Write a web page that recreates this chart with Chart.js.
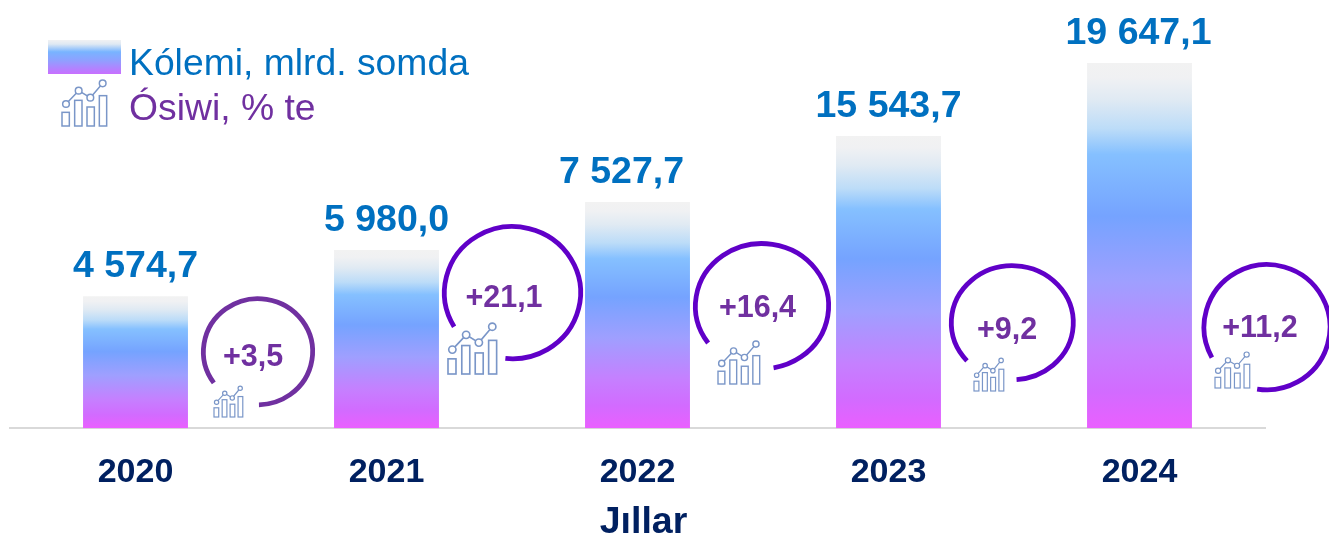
<!DOCTYPE html>
<html>
<head>
<meta charset="utf-8">
<style>html,body{margin:0;padding:0;background:#fff}canvas{display:block}</style>
<script src="https://cdn.jsdelivr.net/npm/chart.js@4"></script>
</head>
<body>
<div style="width:1329px;height:534px;position:relative"><canvas id="c" width="1329" height="534"></canvas></div>
<script>
const categories = ['2020','2021','2022','2023','2024'];
const volumeValues = [4574.7, 5980.0, 7527.7, 15543.7, 19647.1];
const volumeLabels = ['4 574,7','5 980,0','7 527,7','15 543,7','19 647,1'];
const growthLabels = ['+3,5','+21,1','+16,4','+9,2','+11,2'];
const legendVolume = 'Kólemi, mlrd. somda';
const legendGrowth = 'Ósiwi, % te';
const axisTitle = 'Jıllar';

// The picture's hidden value axis is not linear: knots of a piecewise scale (value, share of plot height)
const axisKnotValues = [0, 4574.7, 5980.0, 7527.7, 15543.7, 19647.1, 22000];
const axisKnotShares = [0, 0.3084, 0.4159, 0.5280, 0.6822, 0.8528, 1];

const FONT = '"Liberation Sans", Arial, sans-serif';
const BLUE = '#0070c0', PURPLE = '#7030a0', NAVY = '#002060', ICON = '#7a96c8';
const barStops = [[0,'#f2f2f2'],[.04,'#f0f1f3'],[.10,'#e0eaf3'],[.18,'#bcdcf8'],[.25,'#85c0ff'],[.42,'#75a3ff'],[.60,'#9f9fff'],[.78,'#c580ff'],[.90,'#d26bff'],[1,'#ea5fff']];
const swatchStops = [[0,'#f0f1f3'],[.12,'#dfe9f3'],[.35,'#78b4ff'],[.6,'#8fa0ff'],[1,'#c96fff']];

// annotation layout: value-label shift, ring offset from bar centre, height of centre over the axis, radii, arc angles, colour, text offset, icon box
const labelShift = [0, 0, -16, 0, -1];
const ringLayout = [
  {dx:122.5, up:76.5,  rx:54.6, ry:53.1, a0:144, a1:89, color:'#7030a0', tx:-5,   ty:4, icon:[214,386,29,31]},
  {dx:126,   up:135.5, rx:68.1, ry:66.1, a0:149, a1:96, color:'#6000c8', tx:-8.5, ty:4, icon:[448,323,49,51]},
  {dx:124.5, up:122,   rx:66.6, ry:62.6, a0:144, a1:80, color:'#6000c8', tx:-4.5, ty:1, icon:[718,341,42,43]},
  {dx:123.8, up:105.5, rx:61,   ry:57,   a0:138, a1:86, color:'#6000c8', tx:-5.3, ty:6, icon:[974,358,30,33]},
  {dx:127.5, up:101,   rx:63,   ry:62.6, a0:151, a1:99, color:'#6000c8', tx:-7,   ty:0, icon:[1215,352,35,36]}
];

class PiecewiseScale extends Chart.LinearScale {
  getPixelForValue(v) {
    const k = axisKnotValues, s = axisKnotShares;
    let i = 0;
    while (i < k.length - 2 && v > k[i + 1]) i++;
    const share = s[i] + (v - k[i]) / (k[i + 1] - k[i]) * (s[i + 1] - s[i]);
    return this.bottom - share * (this.bottom - this.top);
  }
  getValueForPixel(p) {
    const k = axisKnotValues, s = axisKnotShares;
    const share = (this.bottom - p) / (this.bottom - this.top);
    let i = 0;
    while (i < s.length - 2 && share > s[i + 1]) i++;
    return k[i] + (share - s[i]) / (s[i + 1] - s[i]) * (k[i + 1] - k[i]);
  }
}
PiecewiseScale.id = 'piecewise';
PiecewiseScale.defaults = {};
Chart.register(PiecewiseScale);

function gradient(ctx, top, bottom, stops) {
  const g = ctx.createLinearGradient(0, top, 0, bottom);
  stops.forEach(s => g.addColorStop(s[0], s[1]));
  return g;
}

function drawIcon(ctx, x, y, w, h) {
  const sx = w / 135, sy = h / 138;
  const bars = [[0,97,22],[38,61,22],[75,81,22],[112,47,22]];
  const pts = [[12,72],[50,32],[85,53],[122,10]];
  ctx.save();
  ctx.strokeStyle = ICON;
  ctx.lineWidth = Math.max(1.2, w / 30);
  bars.forEach(b => ctx.strokeRect(x + b[0] * sx, y + b[1] * sy, b[2] * sx, (138 - b[1]) * sy));
  ctx.beginPath();
  pts.forEach((p, i) => { const px = x + p[0] * sx, py = y + p[1] * sy; if (i) ctx.lineTo(px, py); else ctx.moveTo(px, py); });
  ctx.stroke();
  pts.forEach(p => {
    ctx.beginPath();
    ctx.arc(x + p[0] * sx, y + p[1] * sy, 10 * sx, 0, Math.PI * 2);
    ctx.fillStyle = '#fff';
    ctx.fill();
    ctx.stroke();
  });
  ctx.restore();
}

const decorations = {
  id: 'decorations',
  afterDatasetsDraw(chart) {
    const ctx = chart.ctx, bars = chart.getDatasetMeta(0).data, axisY = chart.scales.y.bottom;
    ctx.save();
    // value labels
    ctx.textAlign = 'center';
    ctx.textBaseline = 'alphabetic';
    ctx.fillStyle = BLUE;
    ctx.font = 'bold 37.5px ' + FONT;
    bars.forEach((b, i) => ctx.fillText(volumeLabels[i], b.x + labelShift[i], b.y - 19));
    // growth rings
    bars.forEach((b, i) => {
      const L = ringLayout[i], cx = b.x + L.dx, cy = axisY - L.up;
      ctx.beginPath();
      ctx.ellipse(cx, cy, L.rx, L.ry, 0, L.a0 * Math.PI / 180, L.a1 * Math.PI / 180);
      ctx.strokeStyle = L.color;
      ctx.lineWidth = 4.8;
      ctx.stroke();
      ctx.fillStyle = PURPLE;
      ctx.font = 'bold 30.5px ' + FONT;
      ctx.fillText(growthLabels[i], cx + L.tx, cy + L.ty + 10);
      drawIcon(ctx, L.icon[0], L.icon[1], L.icon[2], L.icon[3]);
    });
    // legend
    ctx.fillStyle = gradient(ctx, 40, 74, swatchStops);
    ctx.fillRect(48, 40, 73, 34);
    ctx.textAlign = 'left';
    ctx.font = '37.3px ' + FONT;
    ctx.fillStyle = BLUE;
    ctx.fillText(legendVolume, 129, 75);
    ctx.fillStyle = PURPLE;
    ctx.fillText(legendGrowth, 129, 120);
    drawIcon(ctx, 62, 80, 45, 46);
    // axis title
    ctx.textAlign = 'center';
    ctx.font = 'bold 37.5px ' + FONT;
    ctx.fillStyle = NAVY;
    ctx.fillText(axisTitle, 643.5, 533);
    ctx.restore();
  }
};

new Chart(document.getElementById('c'), {
  type: 'bar',
  data: {
    labels: categories,
    datasets: [{
      label: legendVolume,
      data: volumeValues,
      borderWidth: 0,
      categoryPercentage: 0.418,
      barPercentage: 1,
      backgroundColor(c) {
        const y = c.chart.scales.y;
        const top = y && c.dataIndex !== undefined ? y.getPixelForValue(volumeValues[c.dataIndex]) : NaN;
        if (!Number.isFinite(top) || !Number.isFinite(y.bottom)) return '#75a3ff';
        return gradient(c.chart.ctx, top, y.bottom, barStops);
      }
    }]
  },
  options: {
    responsive: false,
    animation: false,
    layout: { padding: { left: 10, right: 64, top: 0, bottom: 17 } },
    plugins: { legend: { display: false }, tooltip: { enabled: false } },
    scales: {
      y: { type: 'piecewise', display: false, min: 0, max: 22000 },
      x: {
        grid: { display: false, drawTicks: false },
        border: { display: true, color: '#d9d9d9', width: 2 },
        ticks: { color: NAVY, font: { family: FONT, size: 34, weight: 'bold' }, padding: 24, maxRotation: 0 },
        title: { display: false }
      }
    }
  },
  plugins: [decorations]
});
</script>
</body>
</html>
